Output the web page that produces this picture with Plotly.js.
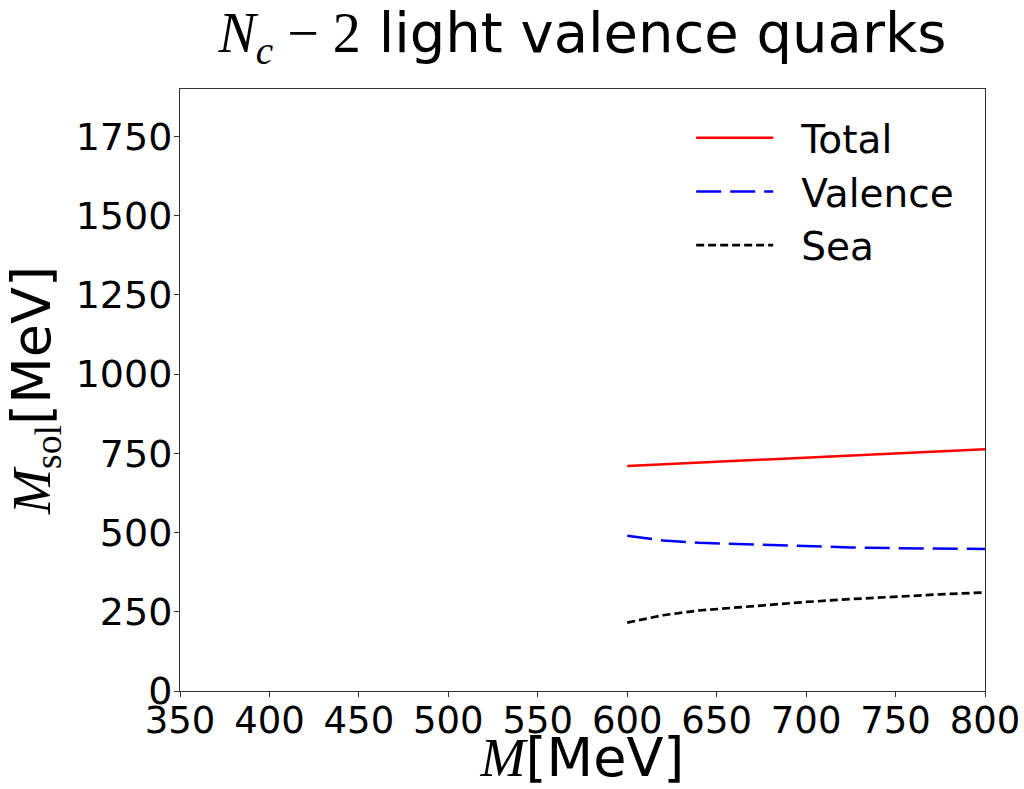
<!DOCTYPE html>
<html>
<head>
<meta charset="utf-8">
<script src="https://cdn.plot.ly/plotly-3.0.1.min.js"></script>
<style>html,body{margin:0;padding:0;background:#fff;}#chart{width:1024px;height:789px;}</style>
</head>
<body>
<div id="chart"></div>
<script>
// M [MeV]
const massM = [600, 610, 620, 640, 660, 680, 700, 725, 750, 775, 800];
const totalM = [600, 650, 700, 750, 800];
const totalVals = [710, 723, 737, 750, 763];
const valenceVals = [490, 482, 475, 468, 464, 460, 456, 453, 451, 449, 448];
const seaVals = [216, 228, 239, 254, 263, 273, 281, 290, 298, 305, 311];
const seriesNames = ["Total", "Valence", "Sea"];

const serif = "Liberation Serif, DejaVu Serif, serif";
const sans = "DejaVu Sans, sans-serif";

const traces = [
  {x: totalM, y: totalVals, name: seriesNames[0], mode: "lines", legendgroup: "a",
   line: {color: "#ff0000", width: 2.5, dash: "solid"}},
  {x: massM, y: valenceVals, name: seriesNames[1], mode: "lines", legendgroup: "b",
   line: {color: "#0000ff", width: 2.5, dash: "25px,9px"}},
  {x: massM, y: seaVals, name: seriesNames[2], mode: "lines", legendgroup: "c",
   line: {color: "#000000", width: 2.7, dash: "8px,4px"}}
];

const layout = {
  width: 1024, height: 789,
  paper_bgcolor: "#fff", plot_bgcolor: "#fff",
  margin: {l: 180, r: 39, t: 89, b: 98, pad: 0},
  font: {family: sans, color: "#000", size: 38},
  title: {
    text: '<span style="font-family:' + serif + '"><i>N</i><sub><i>c</i></sub> − 2</span> light valence quarks',
    font: {family: sans, size: 56, color: "#000"},
    x: 0.5, xanchor: "center", xref: "paper",
    y: 0.934, yanchor: "bottom", yref: "container"
  },
  xaxis: {
    range: [350, 800], dtick: 50, tick0: 350,
    showgrid: false, zeroline: false,
    showline: true, linecolor: "#333", linewidth: 1, mirror: true,
    ticks: "outside", ticklen: 5, tickwidth: 1, tickcolor: "#333",
    ticklabelstandoff: -8,
    tickfont: {family: sans, size: 37, color: "#000"},
    title: {text: '<span style="font-family:' + serif + '"><i>M</i></span>[MeV]',
            font: {family: sans, size: 54, color: "#000"}, standoff: 6}
  },
  yaxis: {
    range: [0, 1900], dtick: 250, tick0: 0,
    showgrid: false, zeroline: false,
    showline: true, linecolor: "#333", linewidth: 1, mirror: true,
    ticks: "outside", ticklen: 5, tickwidth: 1, tickcolor: "#333",
    ticklabelstandoff: -6,
    tickfont: {family: sans, size: 38, color: "#000"},
    title: {text: '<span style="font-family:' + serif + '"><i>M</i><sub>sol</sub></span>[MeV]',
            font: {family: sans, size: 54, color: "#000"}, standoff: 8}
  },
  showlegend: true,
  legend: {
    x: 0.635, y: 0.972, xanchor: "left", yanchor: "top",
    bgcolor: "rgba(0,0,0,0)", borderwidth: 0,
    font: {family: sans, size: 39, color: "#000"},
    itemwidth: 100,
    traceorder: "grouped", tracegroupgap: 0
  }
};

Plotly.newPlot("chart", traces, layout, {displayModeBar: false, staticPlot: true}).then(function (gd) {
  // lengthen the legend line samples to match the reference legend handles
  gd.querySelectorAll(".legend .legendlines path").forEach(function (p) {
    p.setAttribute("d", "M5,0h77");
  });
});
</script>
</body>
</html>
